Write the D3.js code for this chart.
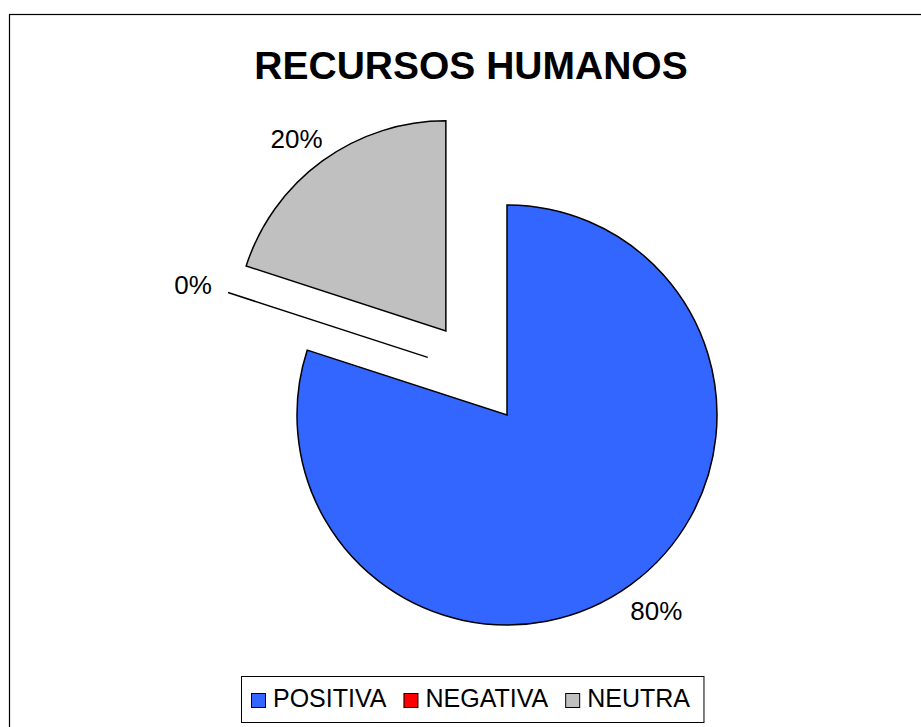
<!DOCTYPE html>
<html lang="es">
<head>
    <meta charset="UTF-8">
    <title>Recursos Humanos</title>
    <script src="https://d3js.org/d3.v7.min.js"></script>
    <style>
        body {
            margin: 0;
            background: #fff;
        }
        svg text {
            font-family: Arial, "Liberation Sans", sans-serif;
            fill: #000;
        }
        .slice {
            stroke: #000;
            stroke-width: 1.5px;
        }
    </style>
</head>
<body>
<div id="chart"></div>
<script>
    // Data
    const categories = ["POSITIVA", "NEGATIVA", "NEUTRA"];
    const values = [80, 0, 20];
    const colors = ["#3366FF", "#FF0000", "#C0C0C0"];
    const title = "RECURSOS HUMANOS";

    // Layout
    const width = 921, height = 727;
    const cx = 507, cy = 415, radius = 210;
    // explosion distance and direction (degrees, clockwise from top; null = mid angle)
    const explodeDist = [0, 98, 104];
    const explodeDir = [null, 306, null];

    const svg = d3.select("#chart").append("svg")
        .attr("width", width)
        .attr("height", height);

    // outer frame
    svg.append("rect")
        .attr("x", 9.5).attr("y", 14.5)
        .attr("width", 940).attr("height", 800)
        .attr("fill", "#fff")
        .attr("stroke", "#000")
        .attr("stroke-width", 1.2);

    svg.append("text")
        .attr("x", 471).attr("y", 79)
        .attr("text-anchor", "middle")
        .style("font-size", "39px")
        .style("font-weight", "bold")
        .text(title);

    const pie = d3.pie().sort(null).value(d => d)
        .startAngle(0).endAngle(2 * Math.PI);
    const arcs = pie(values);
    const arc = d3.arc().innerRadius(0).outerRadius(radius);
    const total = d3.sum(values);

    const g = svg.append("g").attr("transform", `translate(${cx},${cy})`);

    function offset(d, i) {
        const a = explodeDir[i] != null ? explodeDir[i] * Math.PI / 180 : (d.startAngle + d.endAngle) / 2;
        return [Math.sin(a) * explodeDist[i], -Math.cos(a) * explodeDist[i]];
    }

    const slices = g.selectAll("g.slice-g")
        .data(arcs)
        .join("g")
        .attr("class", "slice-g")
        .attr("transform", (d, i) => {
            const o = offset(d, i);
            return `translate(${o[0]},${o[1]})`;
        });

    slices.append("path")
        .attr("class", "slice")
        .attr("fill", (d, i) => colors[i])
        .attr("d", arc);

    // data labels, outside end
    const labelR = 228;
    slices.append("text")
        .style("font-size", "26px")
        .attr("text-anchor", "middle")
        .attr("dy", "0.35em")
        .text(d => Math.round(d.value / total * 100) + "%")
        .attr("x", function(d) {
            const a = (d.startAngle + d.endAngle) / 2;
            const w = this.getComputedTextLength();
            return Math.sin(a) * (labelR + w / 2);
        })
        .attr("y", d => {
            const a = (d.startAngle + d.endAngle) / 2;
            return -Math.cos(a) * (labelR + 12) + 2;
        });

    // legend
    const legend = svg.append("g");
    const legBox = legend.append("rect")
        .attr("x", 241.5).attr("y", 676.5)
        .attr("height", 46)
        .attr("fill", "#fff")
        .attr("stroke", "#000")
        .attr("stroke-width", 1);

    let lx = 251;
    categories.forEach((c, i) => {
        legend.append("rect")
            .attr("x", lx + 0.5).attr("y", 693.5)
            .attr("width", 14).attr("height", 14)
            .attr("fill", colors[i])
            .attr("stroke", "#000")
            .attr("stroke-width", 1);
        const t = legend.append("text")
            .attr("x", lx + 22).attr("y", 707)
            .style("font-size", "25px")
            .text(c);
        lx += 22 + t.node().getComputedTextLength() + 17;
    });
    legBox.attr("width", lx - 17 + 14 - 241.5);
</script>
</body>
</html>
